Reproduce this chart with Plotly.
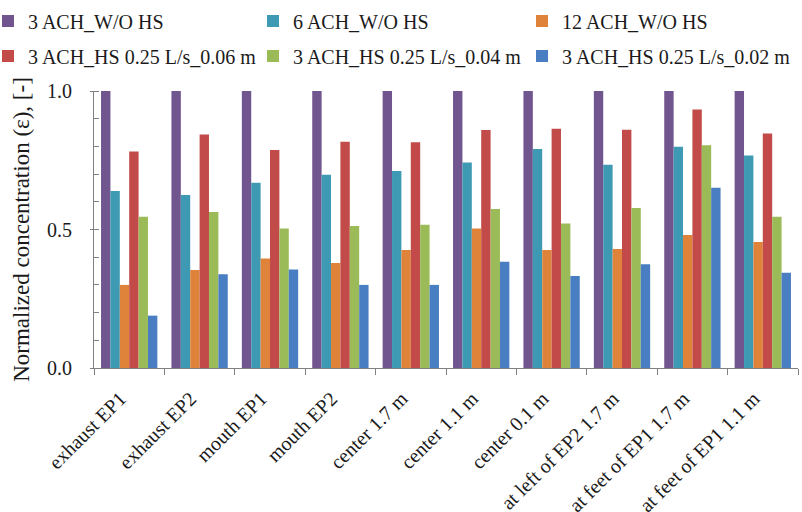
import plotly.graph_objects as go

categories = ["exhaust EP1", "exhaust EP2", "mouth EP1", "mouth EP2", "center 1.7 m",
              "center 1.1 m", "center 0.1 m", "at left of EP2 1.7 m",
              "at feet of EP1 1.7 m", "at feet of EP1 1.1 m"]

series_names = ["3 ACH_W/O HS", "6 ACH_W/O HS", "12 ACH_W/O HS",
                "3 ACH_HS 0.25 L/s_0.06 m", "3 ACH_HS 0.25 L/s_0.04 m", "3 ACH_HS 0.25 L/s_0.02 m"]

ach3_wo = [1.0, 1.0, 1.0, 1.0, 1.0, 1.0, 1.0, 1.0, 1.0, 1.0]
ach6_wo = [0.639, 0.625, 0.669, 0.698, 0.711, 0.742, 0.791, 0.734, 0.799, 0.767]
ach12_wo = [0.300, 0.354, 0.395, 0.379, 0.426, 0.504, 0.426, 0.430, 0.480, 0.455]
hs_006 = [0.782, 0.843, 0.787, 0.817, 0.815, 0.859, 0.864, 0.860, 0.933, 0.847]
hs_004 = [0.546, 0.563, 0.504, 0.513, 0.517, 0.574, 0.522, 0.578, 0.804, 0.546]
hs_002 = [0.189, 0.338, 0.356, 0.300, 0.300, 0.384, 0.332, 0.375, 0.651, 0.344]

colors = ["#71558F", "#3E9AB3", "#E0833A", "#C24B49", "#9BBB59", "#4A7EC2"]

all_values = [ach3_wo, ach6_wo, ach12_wo, hs_006, hs_004, hs_002]

W, H = 802, 512
ML, MR, MT, MB = 94, 4, 91, 144
font_family = "Liberation Serif"
text_col = "#1a1a1a"

# legend layout: 3 columns x 2 rows (text start x in px, row centre y in px)
legend_text_x = [28, 293, 562]
legend_row_y = [21, 56]
legend_offset = 40  # px from legend origin to text start

fig = go.Figure()
legend_layouts = {}
for i, (name, vals, col) in enumerate(zip(series_names, all_values, colors)):
    lname = "legend" if i == 0 else f"legend{i + 1}"
    fig.add_trace(go.Bar(x=categories, y=vals, name=name, legend=lname,
                         marker=dict(color=col, line=dict(width=0))))
    row, c = divmod(i, 3)
    legend_layouts[lname] = dict(
        orientation="h", xref="paper", yref="container",
        x=(legend_text_x[c] - legend_offset - ML) / (W - ML - MR),
        y=1 - legend_row_y[row] / H,
        xanchor="left", yanchor="middle", itemwidth=30,
        bgcolor="rgba(0,0,0,0)",
        font=dict(family=font_family, size=20, color=text_col),
    )

fig.update_layout(
    width=W, height=H,
    margin=dict(l=ML, r=MR, t=MT, b=MB, autoexpand=False),
    paper_bgcolor="white", plot_bgcolor="white",
    barmode="group", bargap=0.2, bargroupgap=0,
    font=dict(family=font_family, size=20, color=text_col),
    showlegend=True,
    **legend_layouts,
)
fig.update_xaxes(
    showline=True, linecolor="#808080", linewidth=1,
    ticks="outside", tickson="boundaries", ticklen=6, tickcolor="#808080",
    tickangle=-45, ticklabelstandoff=10, ticklabelshift=-9,
    tickfont=dict(family=font_family, size=20, color=text_col),
    showgrid=False, automargin=False,
)
fig.update_yaxes(
    range=[0, 1.0], dtick=0.5, tickformat=".1f",
    showline=True, linecolor="#808080", linewidth=1,
    ticks="outside", ticklen=3, tickcolor="#808080", ticklabelstandoff=14,
    minor=dict(dtick=0.1, ticks="inside", ticklen=5, tickcolor="#808080"),
    showgrid=False, zeroline=False, automargin=False,
    tickfont=dict(family=font_family, size=20, color=text_col),
    title=dict(text="Normalized concentration (ε), [-]",
               font=dict(family=font_family, size=23, color=text_col), standoff=10),
)

fig.write_html("out.html", config={"displayModeBar": False},
               post_script="document.body.style.margin='0';document.body.style.overflow='hidden';")
